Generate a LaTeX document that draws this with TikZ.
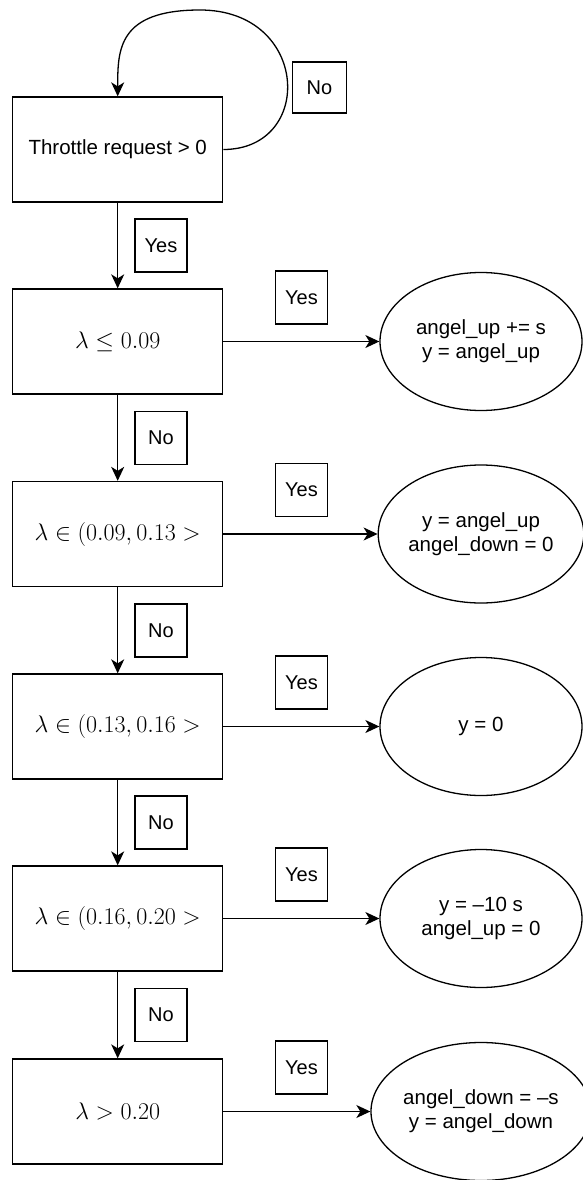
\RequirePackage{fix-cm}
\documentclass[tikz,border=0pt]{standalone}
\usepackage[no-math]{fontspec}
\setmainfont{Liberation Sans}
\usetikzlibrary{arrows.meta,shapes.geometric}
\begin{document}
\begin{tikzpicture}[x=1pt,y=-1pt,
  line width=1.3pt,
  box/.style={draw, minimum width=210pt, minimum height=105pt, inner sep=0pt, font=\fontsize{24}{28}\selectfont},
  tbox/.style={draw, minimum width=210pt, minimum height=105pt, inner sep=0pt, font=\fontsize{20.5}{24}\selectfont},
  oval/.style={draw, ellipse, minimum width=202pt, minimum height=138pt, inner sep=0pt, align=center, font=\fontsize{20.5}{24}\selectfont},
  lbl/.style={draw, minimum width=52pt, minimum height=53pt, inner sep=0pt, font=\fontsize{20}{24}\selectfont},
  arr/.style={-{Stealth[length=14pt,width=13pt,inset=4pt]}}
]
\useasboundingbox (0,0) rectangle (582,1180);

\node[tbox] (b1) at (117.7,149.5) {Throttle request > 0};
\node[box] (b2) at (117.7,341.5) {$\lambda \leq 0.09$};
\node[box] (b3) at (117.7,534) {$\lambda \in (0.09, 0.13 >$};
\node[box] (b4) at (117.7,726.5) {$\lambda \in (0.13, 0.16 >$};
\node[box] (b5) at (117.7,918.5) {$\lambda \in (0.16, 0.20 >$};
\node[box] (b6) at (117.7,1111.5) {$\lambda > 0.20$};

\node[oval] (e2) at (481,341.5) {angel\_up += s\\y = angel\_up};
\node[oval] (e3) at (481,534) {y = angel\_up\\angel\_down = 0};
\node[oval] (e4) at (481,726.5) {y = 0};
\node[oval] (e5) at (481,918.5) {y = –10 s\\angel\_up = 0};
\node[oval] (e6) at (481,1111.5) {angel\_down = –s\\y = angel\_down};

\node[lbl] (l1) at (161,245.5) {Yes};
\node[lbl] (l2) at (161,438) {No};
\node[lbl] (l3) at (161,630.5) {No};
\node[lbl] (l4) at (161,822.5) {No};
\node[lbl] (l5) at (161,1015) {No};

\node[lbl] (s2) at (301.5,297.5) {Yes};
\node[lbl] (s3) at (301.5,490) {Yes};
\node[lbl] (s4) at (301.5,682.5) {Yes};
\node[lbl] (s5) at (301.5,874.5) {Yes};
\node[lbl] (s6) at (301.5,1067.5) {Yes};

\node[lbl, minimum width=54pt, minimum height=51pt] (n0) at (319.5,87.5) {No};

\draw[arr] (b1) -- (b2);
\draw[arr] (b2) -- (b3);
\draw[arr] (b3) -- (b4);
\draw[arr] (b4) -- (b5);
\draw[arr] (b5) -- (b6);

\draw[arr] (b2) -- (e2);
\draw[arr] (b3) -- (e3);
\draw[arr] (b4) -- (e4);
\draw[arr] (b5) -- (e5);
\draw[arr] (b6) -- (e6);

\coordinate (top) at (200,10);
\draw[arr] (b1.east) .. controls (315,149.5) and (310,10) .. (top)
  .. controls (117.7,10) and (117.7,50) .. (b1.north);
\end{tikzpicture}
\end{document}
